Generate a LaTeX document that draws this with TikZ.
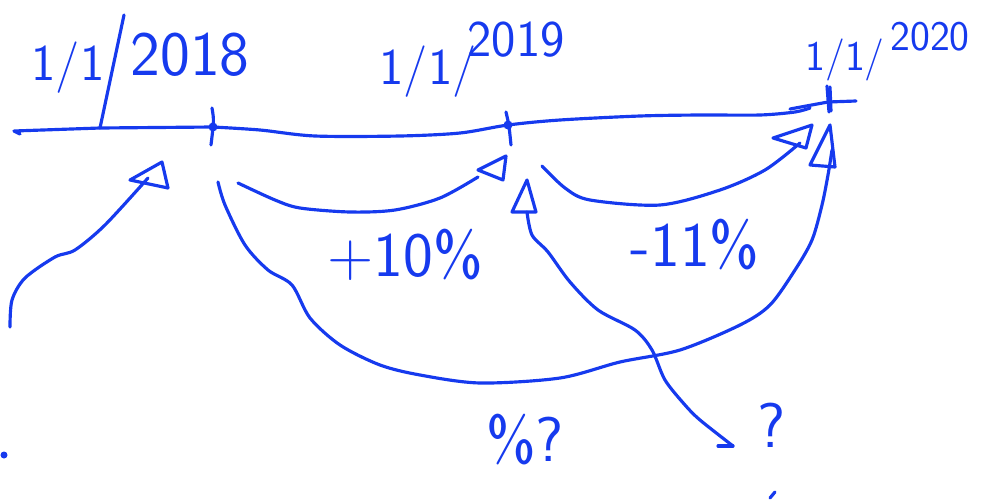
\documentclass[tikz,border=0pt]{standalone}
\usepackage{fontspec}
\definecolor{pen}{RGB}{22,58,238}
\tikzset{
  ink/.style={draw=pen,line width=2.7pt,line cap=round,line join=round},
  hand/.style={text=pen,font=\sffamily,inner sep=0pt},
  big/.style={hand,font=\sffamily\fontsize{54}{54}\selectfont},
  mid/.style={hand,font=\sffamily\fontsize{44}{44}\selectfont},
  small/.style={hand,font=\sffamily\fontsize{36}{36}\selectfont}
}
\begin{document}
\begin{tikzpicture}[x=0.03cm,y=-0.03cm]
\useasboundingbox (0,0) rectangle (997,502);
% timeline
\coordinate (tl0) at (14,131);
\coordinate (t18) at (213,127);
\coordinate (t19) at (508,125);
\coordinate (t20) at (828,102);
\draw[ink] (20,134) -- (tl0) -- (100,128) -- (t18);
\draw[ink] plot[smooth,tension=0.5] coordinates {(213,127) (260,130) (315,136) (400,136) (460,133) (508,125) (560,120) (640,116) (700,115) (760,115) (795,112) (810,108)};
\draw[ink] (790,109) -- (t20) -- (856,101);
% ticks
\draw[ink] (212,108) .. controls (214,120) .. (211,145);
\fill[pen] (t18) circle (4.5);
\draw[ink] (506,112) .. controls (509,125) .. (511,145);
\fill[pen] (t19) circle (4.5);
\draw[ink] (827,86) -- (829,112);
\draw[ink] (830,87) -- (831,111);
% labels
\node[mid,anchor=base] (l18a) at (68,80) {1/1};
\node[big,anchor=base] (l18b) at (190,75) {2018};
\coordinate (s18top) at (124,15);
\coordinate (s18bot) at (100,128);
\draw[ink] (s18top) -- (s18bot);
\node[mid,anchor=base] (l19a) at (428,84) {1/1/};
\node[mid,anchor=base] (l19b) at (516,56) {2019};
\node[small,anchor=base] (l20a) at (845,70) {1/1/};
\node[small,anchor=base] (l20b) at (930,50) {2020};
% arrow from bottom-left to 2018
\coordinate (a1s) at (10,327);
\coordinate (a1e) at (162,162);
\draw[ink] plot[smooth] coordinates {(a1s) (12,300) (25,278) (55,257) (75,250) (105,225) (148,178)};
\draw[ink] (130,180) -- (a1e) -- (168,188) -- cycle;
% +10% arc
\coordinate (b1s) at (238,183);
\coordinate (b1e) at (506,156);
\draw[ink] plot[smooth] coordinates {(b1s) (275,200) (300,208) (350,212) (395,210) (440,198) (478,177)};
\draw[ink] (478,170) -- (b1e) -- (503,180) -- cycle;
% -11% arc
\coordinate (c1s) at (542,166);
\coordinate (c1e) at (812,125);
\draw[ink] plot[smooth] coordinates {(c1s) (565,188) (590,200) (660,205) (720,190) (765,170) (800,143)};
\draw[ink] (773,138) -- (c1e) -- (806,148) -- cycle;
% big arc 2018 -> 2020
\coordinate (d1s) at (218,182);
\coordinate (d1e) at (830,125);
\draw[ink] plot[smooth] coordinates {(d1s) (225,205) (245,245) (268,270) (292,285) (310,318) (340,345) (380,365) (420,375) (480,383) (560,378) (620,362) (680,350) (740,325) (770,305) (795,270) (812,240) (822,205) (828,175) (832,150)};
\draw[ink] (810,165) -- (d1e) -- (835,167) -- cycle;
% arrow from 2019 down to ?
\coordinate (e1s) at (527,180);
\coordinate (e1e) at (733,446);
\draw[ink] (512,212) -- (e1s) -- (536,212) -- cycle;
\draw[ink] plot[smooth] coordinates {(527,212) (532,235) (548,252) (570,282) (598,310) (635,330) (652,350) (665,380) (685,405) (700,420) (e1e)};
\draw[ink] (e1e) -- (718,446);
% percentages
\node[big] (p10) at (405,255) {+10\%};
\node[big] (m11) at (695,245) {-11\%};
\node[big] (pq) at (525,440) {\%?};
\node[big] (q) at (772,425) {?};
% stray marks
\fill[pen] (4,455) circle (3.5);
\draw[ink] (770,498) -- (775,492);
\end{tikzpicture}
\end{document}
